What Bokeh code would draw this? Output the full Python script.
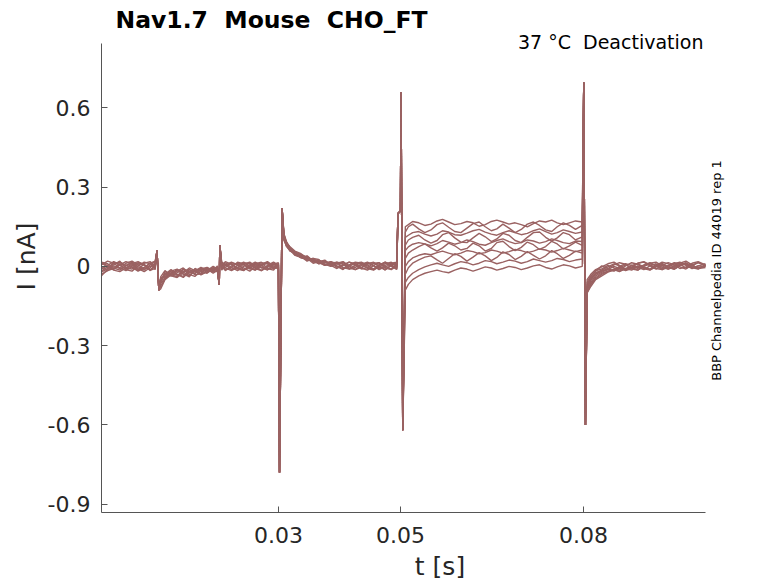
import math
from bokeh.plotting import figure
from bokeh.models import Range1d, FixedTicker, Label
from bokeh.embed import file_html
from bokeh.resources import INLINE

# ---- time grids (s) ----
T_A = [0.001, 0.002, 0.003, 0.004, 0.005, 0.006, 0.007, 0.008, 0.009, 0.0098]
T_S1 = [0.0101, 0.0104]
T_B = [0.0107, 0.0114, 0.0124, 0.0134, 0.0144, 0.0154, 0.0163, 0.0173, 0.0183, 0.0193, 0.0200]
T_S2 = [0.0203, 0.0204]
T_C = [0.0207, 0.0213, 0.0223, 0.0233, 0.0243, 0.0253, 0.0262, 0.0272, 0.0282, 0.0292, 0.0300]
T_S3 = [0.03018, 0.0306]
T_D = [0.0309, 0.0313, 0.0319, 0.0327, 0.0337, 0.0347, 0.0357, 0.0366, 0.0376, 0.0386,
       0.0396, 0.0406, 0.0416, 0.0426, 0.0436, 0.0446, 0.0456, 0.0465, 0.0475, 0.0485, 0.0494]
T_S4 = [0.0496, 0.0500, 0.0501, 0.05038]
T_E = [0.0508, 0.0513, 0.0520, 0.0530, 0.0540, 0.0550, 0.0560, 0.0569, 0.0579, 0.0589,
       0.0599, 0.0609, 0.0619, 0.0629, 0.0639, 0.0649, 0.0658, 0.0668, 0.0678, 0.0688,
       0.0698, 0.0708, 0.0718, 0.0728, 0.0738, 0.0748, 0.0757, 0.0767, 0.0777, 0.0787,
       0.0798]
T_S5 = [0.08005, 0.08033]
T_F = [0.0806, 0.0812, 0.0820, 0.0830, 0.0840, 0.0850, 0.0859, 0.0869, 0.0879, 0.0889,
       0.0899, 0.0909, 0.0919, 0.0929, 0.0939, 0.0949, 0.0958, 0.0968, 0.0978, 0.0988,
       0.1]

# ---- shared transient values (nA) ----
I_S1 = [0.06, -0.09]
I_S2 = [-0.07, 0.08]
I_S3 = [-0.78, 0.22]
I_S4 = [0.20, 0.21, 0.66, -0.62]
I_S5 = [0.696, -0.60]

# ---- per-sweep current values (nA), one row per sweep ----
I_A = [
    [0.012, 0.004, -0.014, -0.02, -0.006, 0.01, 0.018, 0.006, -0.012, 0.002],
    [-0.022, -0.008, 0.01, 0.016, 0.004, -0.004, -0.018, -0.006, 0.012, 0.02],
    [0.006, 0.02, 0.012, -0.006, -0.016, 0.0, 0.014, 0.008, -0.014, -0.008],
    [0.014, -0.004, -0.012, 0.006, 0.018, 0.01, -0.008, -0.02, -0.004, 0.012],
    [-0.01, 0.004, 0.018, 0.008, -0.012, -0.018, 0.002, 0.016, 0.01, -0.006],
    [0.0, -0.016, -0.008, 0.01, 0.004, 0.016, -0.002, -0.014, 0.006, 0.018],
    [-0.018, -0.002, 0.006, 0.02, -0.006, -0.01, 0.01, 0.004, -0.016, 0.004],
    [0.016, 0.01, -0.006, -0.014, 0.002, 0.012, -0.012, -0.004, 0.014, -0.012],
    [-0.03, -0.016, 0.002, -0.008, 0.012, 0.02, 0.006, -0.01, 0.0, 0.01],
    [-0.036, -0.01, 0.016, 0.004, -0.01, 0.006, -0.016, 0.012, 0.018, -0.002],
]
I_B = [
    [-0.045, -0.034, -0.016, -0.03, -0.038, -0.012, -0.02, -0.006, -0.024, -0.01, -0.002],
    [-0.06, -0.02, -0.028, -0.012, -0.022, -0.036, -0.014, -0.026, -0.004, -0.016, -0.012],
    [-0.05, -0.038, -0.03, -0.04, -0.01, -0.02, -0.028, -0.01, -0.016, 0.0, -0.008],
    [-0.04, -0.016, -0.036, -0.042, -0.024, -0.006, -0.016, -0.03, -0.02, -0.006, -0.016],
    [-0.065, -0.044, -0.018, -0.01, -0.03, -0.034, -0.018, -0.004, -0.014, -0.022, 0.002],
    [-0.055, -0.026, -0.036, -0.024, -0.012, -0.03, -0.038, -0.016, -0.01, -0.026, -0.014],
    [-0.045, -0.04, -0.024, -0.018, -0.006, -0.026, -0.012, -0.032, -0.02, -0.004, -0.01],
    [-0.06, -0.03, -0.012, -0.03, -0.042, -0.02, -0.026, -0.01, -0.004, -0.02, -0.018],
    [-0.075, -0.048, -0.026, -0.034, -0.02, -0.012, -0.032, -0.028, -0.008, -0.012, -0.004],
    [-0.085, -0.05, -0.032, -0.016, -0.028, -0.04, -0.008, -0.018, -0.026, -0.008, -0.016],
]
I_C = [
    [0.004, 0.018, 0.008, -0.01, -0.016, 0.002, 0.012, -0.004, -0.014, 0.008, 0.014],
    [0.012, -0.006, -0.016, -0.004, 0.014, 0.01, -0.008, -0.016, 0.004, 0.016, 0.004],
    [-0.01, 0.006, 0.016, 0.004, -0.006, -0.018, 0.0, 0.014, 0.01, -0.01, -0.002],
    [0.008, -0.012, -0.004, 0.016, 0.01, -0.008, -0.014, 0.006, 0.016, -0.004, 0.01],
    [0.016, 0.006, -0.012, -0.008, 0.008, 0.016, 0.002, -0.016, -0.004, 0.01, -0.012],
    [-0.014, 0.004, 0.01, -0.006, -0.014, 0.006, 0.016, 0.004, -0.012, -0.004, 0.006],
    [0.002, 0.014, -0.004, -0.016, 0.0, 0.012, -0.006, 0.008, 0.018, 0.002, -0.01],
    [0.01, -0.004, 0.014, 0.008, -0.012, -0.004, 0.01, 0.016, -0.008, -0.014, 0.012],
    [-0.008, 0.008, -0.012, 0.004, 0.016, -0.002, -0.014, 0.002, 0.012, -0.008, 0.004],
    [0.0, -0.016, 0.002, 0.012, 0.006, -0.01, 0.008, -0.006, 0.0, 0.014, -0.004],
]
I_D = [
    [0.125, 0.095, 0.072, 0.052, 0.046, 0.03, 0.022, 0.02, 0.004, 0.012,
     0.016, -0.004, -0.01, 0.004, 0.014, 0.006, -0.012, -0.004, 0.01, 0.016, -0.002],
    [0.11, 0.086, 0.064, 0.05, 0.034, 0.038, 0.018, 0.012, 0.022, 0.004,
     -0.008, 0.006, 0.016, 0.01, -0.006, -0.014, 0.004, 0.014, 0.0, -0.01, 0.008],
    [0.12, 0.082, 0.068, 0.056, 0.04, 0.024, 0.03, 0.016, 0.008, 0.0,
     0.012, 0.018, 0.002, -0.012, -0.004, 0.01, 0.016, -0.002, -0.012, 0.004, 0.012],
    [0.12, 0.092, 0.06, 0.048, 0.042, 0.034, 0.016, 0.024, 0.014, 0.018,
     0.002, -0.01, 0.006, 0.014, 0.008, -0.008, -0.014, 0.002, 0.016, 0.006, -0.006],
    [0.115, 0.09, 0.07, 0.046, 0.032, 0.028, 0.026, 0.01, 0.018, 0.006,
     0.01, 0.016, -0.006, -0.012, 0.004, 0.012, 0.004, -0.01, -0.004, 0.012, 0.016],
    [0.1, 0.078, 0.058, 0.05, 0.038, 0.02, 0.03, 0.026, 0.006, 0.014,
     0.0, -0.012, 0.006, 0.016, 0.012, -0.004, -0.012, 0.006, 0.014, 0.0, -0.01],
    [0.11, 0.076, 0.062, 0.042, 0.036, 0.03, 0.012, 0.018, 0.024, 0.004,
     0.014, 0.008, -0.01, -0.004, 0.008, 0.016, 0.002, -0.012, 0.004, 0.012, 0.006],
    [0.12, 0.088, 0.074, 0.058, 0.048, 0.032, 0.024, 0.01, 0.016, 0.012,
     -0.004, 0.004, 0.016, 0.006, -0.01, -0.004, 0.012, 0.014, -0.006, -0.012, 0.002],
    [0.1, 0.08, 0.06, 0.054, 0.04, 0.026, 0.03, 0.014, 0.004, 0.018,
     0.01, -0.006, 0.0, 0.012, 0.016, 0.002, -0.01, 0.006, 0.016, 0.004, -0.012],
    [0.11, 0.084, 0.066, 0.044, 0.034, 0.04, 0.02, 0.024, 0.008, 0.002,
     0.016, 0.01, -0.008, 0.004, -0.006, 0.01, 0.014, 0.002, -0.014, 0.006, 0.012],
]
I_E = [
    [0.15, 0.158, 0.17, 0.165, 0.155, 0.16, 0.172, 0.178, 0.168, 0.158,
     0.162, 0.17, 0.165, 0.152, 0.158, 0.17, 0.175, 0.168, 0.16, 0.165,
     0.158, 0.15, 0.162, 0.172, 0.168, 0.175, 0.165, 0.158, 0.165, 0.172, 0.168],
    [0.13, 0.15, 0.16, 0.142, 0.128, 0.138, 0.158, 0.165, 0.148, 0.132,
     0.128, 0.145, 0.162, 0.168, 0.15, 0.135, 0.142, 0.16, 0.145, 0.128,
     0.14, 0.16, 0.168, 0.155, 0.138, 0.132, 0.15, 0.165, 0.155, 0.14, 0.155],
    [0.11, 0.118, 0.128, 0.132, 0.122, 0.115, 0.122, 0.135, 0.13, 0.12,
     0.118, 0.126, 0.135, 0.14, 0.13, 0.122, 0.118, 0.128, 0.135, 0.128,
     0.12, 0.125, 0.135, 0.142, 0.132, 0.122, 0.128, 0.138, 0.132, 0.125, 0.13],
    [0.08, 0.1, 0.11, 0.118, 0.1, 0.088, 0.098, 0.12, 0.128, 0.108,
     0.092, 0.09, 0.108, 0.125, 0.112, 0.094, 0.104, 0.125, 0.118, 0.098,
     0.09, 0.11, 0.128, 0.13, 0.11, 0.096, 0.108, 0.128, 0.12, 0.1, 0.112],
    [0.06, 0.074, 0.084, 0.09, 0.085, 0.078, 0.086, 0.098, 0.092, 0.084,
     0.09, 0.1, 0.094, 0.084, 0.08, 0.09, 0.098, 0.104, 0.094, 0.086,
     0.09, 0.1, 0.096, 0.088, 0.094, 0.104, 0.098, 0.09, 0.086, 0.096, 0.094],
    [0.03, 0.05, 0.062, 0.075, 0.085, 0.07, 0.058, 0.07, 0.088, 0.078,
     0.062, 0.068, 0.088, 0.078, 0.058, 0.068, 0.09, 0.095, 0.075, 0.06,
     0.072, 0.092, 0.082, 0.064, 0.075, 0.095, 0.085, 0.066, 0.078, 0.092, 0.08],
    [0.0, 0.018, 0.032, 0.042, 0.048, 0.044, 0.052, 0.058, 0.05, 0.044,
     0.05, 0.06, 0.056, 0.048, 0.052, 0.062, 0.058, 0.05, 0.056, 0.064,
     0.06, 0.052, 0.058, 0.066, 0.062, 0.054, 0.06, 0.068, 0.062, 0.056, 0.062],
    [-0.03, -0.005, 0.012, 0.025, 0.035, 0.04, 0.025, 0.012, 0.03, 0.048,
     0.038, 0.02, 0.035, 0.052, 0.04, 0.022, 0.034, 0.055, 0.045, 0.026,
     0.038, 0.056, 0.042, 0.028, 0.04, 0.06, 0.048, 0.03, 0.042, 0.058, 0.05],
    [-0.06, -0.042, -0.026, -0.012, -0.002, 0.006, 0.012, 0.006, 0.0, 0.01,
     0.018, 0.014, 0.006, 0.012, 0.022, 0.018, 0.01, 0.016, 0.024, 0.02,
     0.012, 0.018, 0.028, 0.022, 0.016, 0.022, 0.03, 0.026, 0.018, 0.024, 0.028],
    [-0.09, -0.068, -0.05, -0.036, -0.026, -0.02, -0.014, -0.02, -0.024, -0.014,
     -0.006, -0.01, -0.018, -0.01, -0.002, -0.006, -0.014, -0.008, 0.0, -0.004,
     -0.012, -0.006, 0.002, 0.006, -0.004, -0.01, -0.002, 0.006, 0.002, -0.006, 0.0],
]
I_F = [
    [-0.05, -0.03, -0.012, -0.002, 0.01, 0.016, 0.004, -0.01, -0.004, 0.012,
     0.018, 0.006, -0.008, -0.012, 0.004, 0.014, 0.008, -0.006, 0.002, 0.014, 0.004],
    [-0.06, -0.036, -0.018, 0.002, -0.008, 0.006, 0.014, 0.008, -0.01, -0.014,
     0.002, 0.012, 0.016, 0.002, -0.01, -0.002, 0.012, 0.02, 0.006, -0.008, 0.004],
    [-0.07, -0.04, -0.016, -0.01, 0.004, -0.006, -0.014, 0.002, 0.014, 0.008,
     -0.006, -0.012, 0.004, 0.016, 0.01, -0.004, 0.006, 0.014, -0.004, -0.01, 0.006],
    [-0.075, -0.046, -0.024, -0.014, -0.002, 0.01, 0.002, -0.012, -0.004, 0.012,
     0.016, 0.002, -0.01, 0.004, 0.014, 0.006, -0.008, -0.002, 0.012, 0.018, 0.006],
    [-0.08, -0.05, -0.028, -0.016, -0.01, -0.016, 0.0, 0.01, 0.004, -0.008,
     0.006, 0.014, 0.002, -0.012, -0.004, 0.01, 0.016, 0.004, -0.008, 0.002, 0.01],
    [-0.085, -0.052, -0.03, -0.018, -0.012, 0.0, -0.008, -0.014, 0.004, 0.01,
     -0.002, -0.01, 0.006, 0.012, -0.002, -0.01, 0.004, 0.012, 0.002, -0.006, 0.0],
    [-0.09, -0.06, -0.036, -0.022, -0.012, -0.018, -0.006, 0.006, -0.004, -0.014,
     0.0, 0.01, 0.004, -0.008, 0.002, 0.012, -0.002, -0.01, 0.006, 0.014, 0.004],
    [-0.09, -0.066, -0.042, -0.026, -0.018, -0.01, -0.02, -0.008, 0.004, -0.004,
     -0.012, 0.002, 0.01, -0.004, -0.01, 0.004, 0.014, 0.006, -0.006, 0.002, 0.0],
    [-0.1, -0.07, -0.046, -0.03, -0.02, -0.012, -0.004, -0.016, -0.008, 0.002,
     -0.008, -0.014, 0.0, 0.008, -0.004, -0.01, 0.004, 0.01, -0.002, -0.008, -0.004],
    [-0.1, -0.076, -0.05, -0.036, -0.022, -0.014, -0.018, -0.008, -0.014, 0.0,
     -0.006, -0.012, -0.002, 0.006, -0.004, -0.01, 0.002, 0.01, 0.004, -0.006, 0.002],
]

X_TICKS = [0.03, 0.05, 0.08]
Y_TICKS = [-0.9, -0.6, -0.3, 0.0, 0.3, 0.6]
Y_TICK_LABELS = ["-0.9", "-0.6", "-0.3", "0", "0.3", "0.6"]
X_LIMITS = (0.001, 0.1)
Y_LIMITS = (-0.9315, 0.8437)

NB = "\u00a0"
TITLE = "Nav1.7" + NB + NB + "Mouse" + NB + NB + "CHO_FT"
SUBTITLE = "37" + NB + "\u00b0C" + NB + NB + "Deactivation"
SIDE_NOTE = "BBP Channelpedia ID 44019 rep 1"

TRACE_COLOR = "#9a6262"
AXIS_COLOR = "#555555"
TEXT_COLOR = "#262626"
FONT = "DejaVu Sans"

# The frame covers the axes box plus the free space above and to the right,
# so header texts sit inside it; the axes themselves are limited by 'bounds'.
p = figure(
    width=778, height=583,
    min_border_left=101, min_border_right=0, min_border_top=0, min_border_bottom=71,
    x_range=Range1d(0.001, 0.11197), y_range=Range1d(-0.9315, 1.00642),
    output_backend="svg", toolbar_location=None,
    background_fill_color="white", border_fill_color="white",
)
p.title.text = ""
p.title.visible = False
p.outline_line_color = None
p.grid.visible = False

t_all = T_A + T_S1 + T_B + T_S2 + T_C + T_S3 + T_D + T_S4 + T_E + T_S5 + T_F
for k in range(len(I_A)):
    y = (I_A[k] + I_S1 + I_B[k] + I_S2 + I_C[k] + I_S3 + I_D[k] + I_S4
         + I_E[k] + I_S5 + I_F[k])
    p.line(t_all, y, line_color=TRACE_COLOR, line_width=1.4)

for ax in (p.xaxis[0], p.yaxis[0]):
    ax.axis_line_color = AXIS_COLOR
    ax.major_tick_line_color = AXIS_COLOR
    ax.major_tick_in = 6
    ax.major_tick_out = 0
    ax.minor_tick_line_color = None
    ax.major_label_text_font = FONT
    ax.major_label_text_font_size = "22px"
    ax.major_label_text_color = TEXT_COLOR
    ax.axis_label_text_font = FONT
    ax.axis_label_text_font_size = "25px"
    ax.axis_label_text_font_style = "normal"
    ax.axis_label_text_color = TEXT_COLOR

p.xaxis.bounds = X_LIMITS
p.xaxis.ticker = FixedTicker(ticks=X_TICKS)
p.xaxis.major_label_overrides = {v: f"{v:.2f}" for v in X_TICKS}
p.xaxis.axis_label = "t [s]"
p.xaxis.major_label_standoff = 14
p.xaxis.axis_label_standoff = 6

p.yaxis.bounds = Y_LIMITS
p.yaxis.ticker = FixedTicker(ticks=Y_TICKS)
p.yaxis.major_label_overrides = dict(zip(Y_TICKS, Y_TICK_LABELS))
p.yaxis.axis_label = "I [nA]"
p.yaxis.major_label_standoff = 11
p.yaxis.axis_label_standoff = 4

p.add_layout(Label(x=0.00329, y=0.9345, text=TITLE, text_font=FONT,
                   text_font_size="23.5px", text_font_style="bold",
                   text_color="black", text_align="left", text_baseline="middle"))
p.add_layout(Label(x=0.09967, y=0.851, text=SUBTITLE, text_font=FONT,
                   text_font_size="19px", text_color="black",
                   text_align="right", text_baseline="middle"))
p.add_layout(Label(x=0.1018, y=-0.0155, text=SIDE_NOTE, text_font=FONT,
                   text_font_size="13px", text_color="black", angle=math.pi / 2,
                   text_align="center", text_baseline="middle"))

open("out.html", "w").write(file_html(p, INLINE))
